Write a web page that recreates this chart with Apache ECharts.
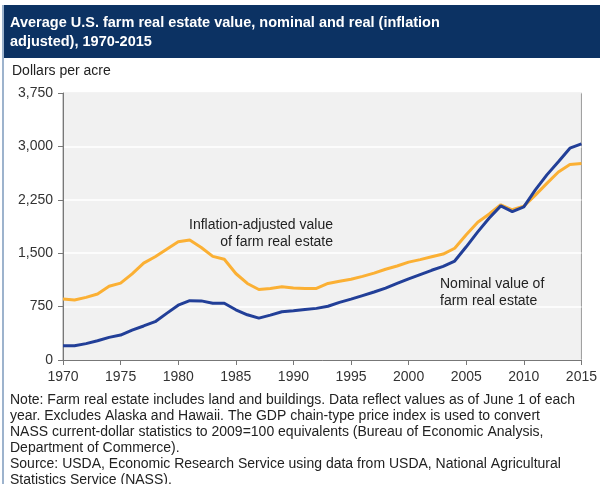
<!DOCTYPE html>
<html>
<head>
<meta charset="utf-8">
<script src="https://cdn.jsdelivr.net/npm/echarts@6/dist/echarts.min.js"></script>
<style>
  html, body { margin: 0; padding: 0; background: #fff; }
  #chart { width: 600px; height: 484px; }
</style>
</head>
<body>
<div id="chart"></div>
<script>
// years on the x axis
var years = [1970, 1971, 1972, 1973, 1974, 1975, 1976, 1977, 1978, 1979,
  1980, 1981, 1982, 1983, 1984, 1985, 1986, 1987, 1988, 1989,
  1990, 1991, 1992, 1993, 1994, 1995, 1996, 1997, 1998, 1999,
  2000, 2001, 2002, 2003, 2004, 2005, 2006, 2007, 2008, 2009,
  2010, 2011, 2012, 2013, 2014, 2015];

// nominal value, dollars per acre
var nominal = [200, 201, 230, 270, 318, 350, 420, 478, 538, 655,
  770, 833, 830, 797, 797, 705, 635, 588, 630, 677,
  692, 710, 725, 755, 810, 855, 905, 955, 1010, 1075,
  1140, 1200, 1260, 1315, 1390, 1590, 1800, 1995, 2165, 2085,
  2150, 2390, 2600, 2785, 2975, 3035];

// inflation-adjusted value (2009 dollars)
var real = [857, 843, 880, 927, 1035, 1080, 1210, 1360, 1450, 1555,
  1660, 1685, 1580, 1455, 1415, 1215, 1075, 990, 1005, 1030,
  1010, 1005, 1005, 1075, 1105, 1135, 1175, 1220, 1275, 1320,
  1375, 1410, 1450, 1488, 1570, 1760, 1935, 2050, 2180, 2110,
  2160, 2315, 2480, 2640, 2745, 2760];

var yTicks = [0, 750, 1500, 2250, 3000, 3750];

var titleText = 'Average U.S. farm real estate value, nominal and real (inflation\nadjusted), 1970-2015';
var noteText = 'Note: Farm real estate includes land and buildings. Data reflect values as of June 1 of each\n' +
  'year. Excludes Alaska and Hawaii. The GDP chain-type price index is used to convert\n' +
  'NASS current-dollar statistics to 2009=100 equivalents (Bureau of Economic Analysis,\n' +
  'Department of Commerce).\n' +
  'Source: USDA, Economic Research Service using data from USDA, National Agricultural\n' +
  'Statistics Service (NASS).';

function pairs(ys) {
  var out = [];
  for (var i = 0; i < years.length; i++) {
    out.push([years[i], ys[i]]);
  }
  return out;
}

var font = 'Arial, "Liberation Sans", sans-serif';
var chart = echarts.init(document.getElementById('chart'), null, { renderer: 'canvas' });

var option = {
  animation: false,
  backgroundColor: '#ffffff',
  grid: {
    left: 63, right: 17, top: 93, bottom: 124,
    show: true,
    backgroundColor: '#f1f1f1',
    borderColor: '#9a9a9a',
    borderWidth: 1
  },
  xAxis: {
    type: 'value',
    min: 1970, max: 2015, interval: 5,
    axisLine: { show: true, lineStyle: { color: '#777', width: 1 } },
    axisTick: { show: true, length: 5, lineStyle: { color: '#777' } },
    splitLine: { show: false },
    axisLabel: {
      color: '#333', fontSize: 14, fontFamily: font, margin: 10,
      formatter: function (v) { return String(v); }
    }
  },
  yAxis: {
    type: 'value',
    min: yTicks[0], max: yTicks[yTicks.length - 1], interval: 750,
    axisLine: { show: true, lineStyle: { color: '#777', width: 1 } },
    axisTick: { show: true, length: 5, lineStyle: { color: '#777' } },
    splitLine: { show: true, lineStyle: { color: '#ffffff', width: 1.5 } },
    axisLabel: {
      color: '#333', fontSize: 14, fontFamily: font, margin: 10,
      formatter: function (v) { return v.toLocaleString('en-US'); }
    }
  },
  series: [
    {
      name: 'Inflation-adjusted value of farm real estate',
      type: 'line',
      data: pairs(real),
      showSymbol: false,
      lineStyle: { color: '#fbb034', width: 3 },
      itemStyle: { color: '#fbb034' }
    },
    {
      name: 'Nominal value of farm real estate',
      type: 'line',
      data: pairs(nominal),
      showSymbol: false,
      lineStyle: { color: '#223f98', width: 3 },
      itemStyle: { color: '#223f98' }
    }
  ],
  graphic: [
    // title band
    { type: 'rect', left: 2, top: 5, z: 0, shape: { width: 598, height: 53 }, style: { fill: '#0c3263' } },
    // left frame line
    { type: 'rect', left: 2, top: 5, z: 1, shape: { width: 2, height: 479 }, style: { fill: '#9db3cd' } },
    {
      type: 'text', left: 10, top: 14, z: 2,
      style: { text: titleText, fill: '#ffffff', font: 'bold 14.5px ' + font, lineHeight: 18.5 }
    },
    {
      type: 'text', left: 12, top: 64, z: 2,
      style: { text: 'Dollars per acre', fill: '#222', font: '14px ' + font }
    },
    {
      type: 'text', x: 333, y: 216.5, z: 5,
      style: { text: 'Inflation-adjusted value\nof farm real estate', fill: '#222', font: '14px ' + font, lineHeight: 17, align: 'right', verticalAlign: 'top' }
    },
    {
      type: 'text', x: 440, y: 275.5, z: 5,
      style: { text: 'Nominal value of\nfarm real estate', fill: '#222', font: '14px ' + font, lineHeight: 17, verticalAlign: 'top' }
    },
    {
      type: 'text', left: 10, top: 392, z: 2,
      style: { text: noteText, fill: '#222', font: '14px ' + font, lineHeight: 16 }
    }
  ]
};

chart.setOption(option);
</script>
</body>
</html>
